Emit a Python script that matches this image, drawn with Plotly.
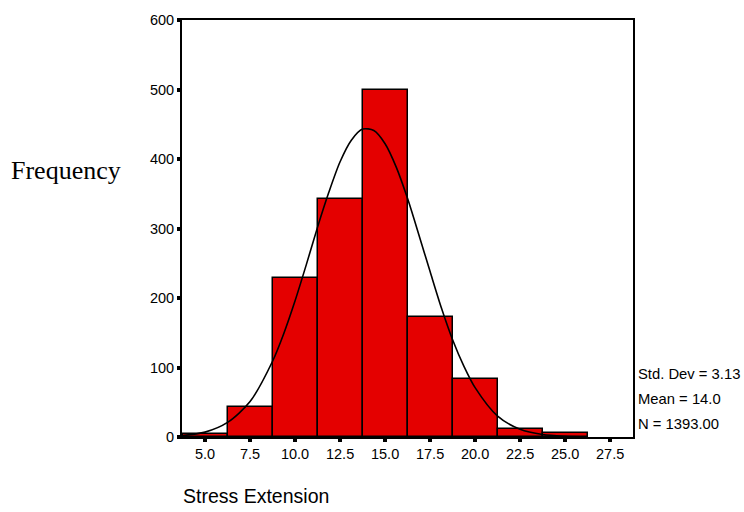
import plotly.graph_objects as go

# Histogram data (bin centres and counts)
bin_centers = [5.0, 7.5, 10.0, 12.5, 15.0, 17.5, 20.0, 22.5, 25.0]
counts = [5, 43, 229, 342, 500, 173, 84, 11, 6]
bin_width = 2.5

# Fitted normal curve
curve_x = [3.75, 5.0, 6.25, 7.5, 8.75, 9.375, 10.0, 10.625, 11.25, 11.875,
           12.5, 13.125, 13.75, 14.375, 15.0, 15.625, 16.25, 16.875, 17.5,
           18.125, 18.75, 19.375, 20.0, 21.25, 22.5, 23.75, 25.0, 26.25]
curve_y = [2, 7, 21, 51, 109, 149, 196, 248, 302, 352,
           396, 427, 443, 441, 422, 388, 343, 291, 238,
           186, 140, 102, 71, 30, 11, 3.5, 1, 0.2]

x_tick_vals = [5.0, 7.5, 10.0, 12.5, 15.0, 17.5, 20.0, 22.5, 25.0, 27.5]
x_tick_text = ["5.0", "7.5", "10.0", "12.5", "15.0", "17.5", "20.0", "22.5", "25.0", "27.5"]
y_tick_vals = [0, 100, 200, 300, 400, 500, 600]

stats_lines = ["Std. Dev = 3.13", "Mean = 14.0", "N = 1393.00"]

fig = go.Figure()
fig.add_trace(go.Bar(
    x=bin_centers, y=counts, width=bin_width,
    marker=dict(color="rgb(228,0,0)", line=dict(color="black", width=1.5)),
    showlegend=False,
))
fig.add_trace(go.Scatter(
    x=curve_x, y=curve_y, mode="lines",
    line=dict(color="black", width=1.6, shape="spline", smoothing=0.8),
    showlegend=False,
))

fig.update_layout(
    width=744, height=512,
    margin=dict(l=182, r=111, t=15, b=75),
    paper_bgcolor="white", plot_bgcolor="white",
    font=dict(family="Liberation Sans, Arial", size=13, color="black"),
    bargap=0,
)
fig.update_xaxes(
    range=[3.72, 28.77], tickvals=x_tick_vals, ticktext=x_tick_text,
    showline=True, mirror=True, linecolor="black", linewidth=2,
    ticks="outside", ticklen=3, tickwidth=4, tickcolor="black",
    showgrid=False, zeroline=False,
    tickfont=dict(family="Liberation Sans, Arial", size=14.5),
)
fig.update_yaxes(
    range=[0, 600], tickvals=y_tick_vals,
    showline=True, mirror=True, linecolor="black", linewidth=2,
    ticks="outside", ticklen=3, tickwidth=4, tickcolor="black",
    showgrid=False, zeroline=False,
    tickfont=dict(family="Liberation Sans, Arial", size=14.5),
)

H = 512 - 15 - 75
fig.add_annotation(
    text="Frequency", xref="paper", yref="paper",
    x=(9 - 182)/451, y=(437 - 167)/H, xanchor="left", yanchor="middle",
    showarrow=False, font=dict(family="Liberation Serif, Times New Roman", size=26),
)
fig.add_annotation(
    text="Stress Extension", xref="paper", yref="paper",
    x=-1/451, y=-(497 - 437)/H, xanchor="left", yanchor="middle",
    showarrow=False, font=dict(family="Liberation Sans, Arial", size=19.5),
)
for i, line in enumerate(stats_lines):
    fig.add_annotation(
        text=line, xref="paper", yref="paper",
        x=1 + 3/451, y=(437 - (373 + 25.5*i))/H,
        xanchor="left", yanchor="middle", showarrow=False,
        font=dict(family="Liberation Sans, Arial", size=14.8),
    )

fig.write_html("out.html")
